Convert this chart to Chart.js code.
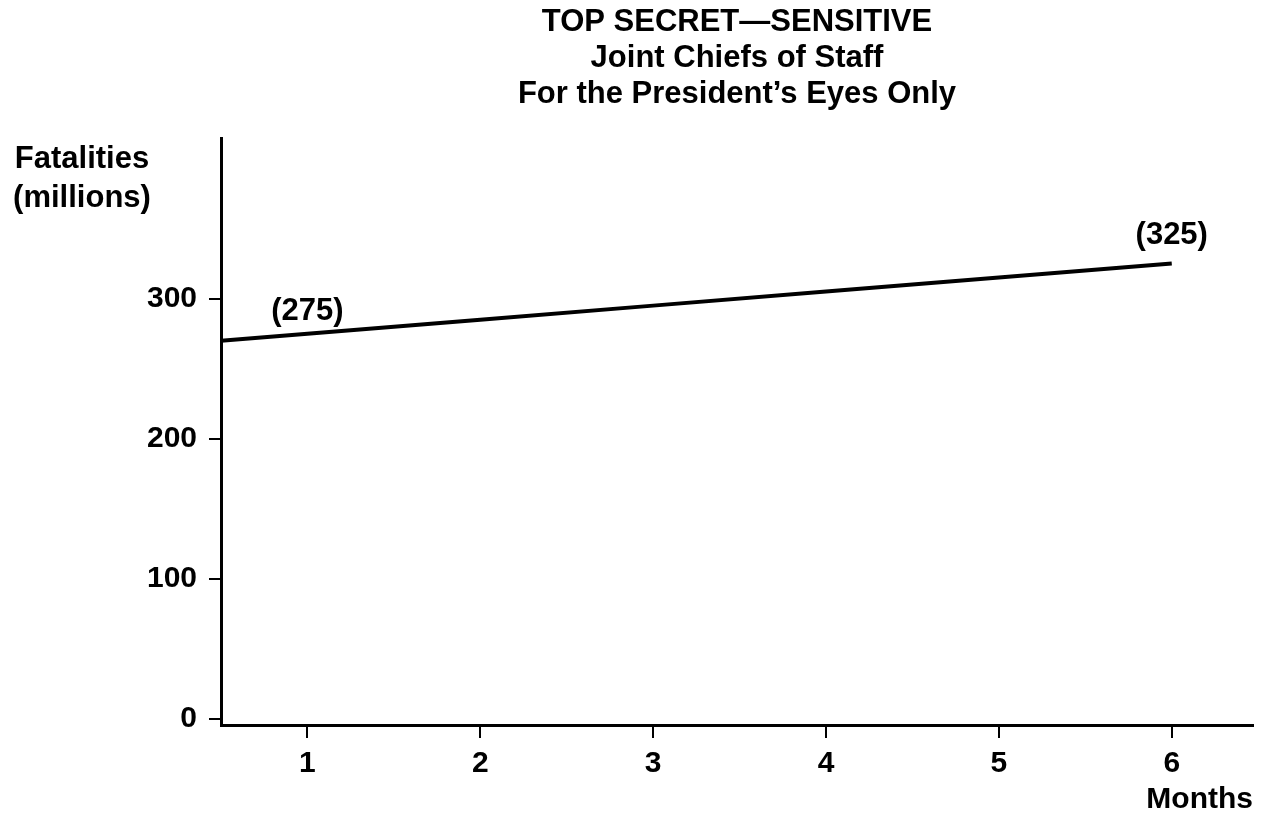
<!DOCTYPE html>
<html><head><meta charset="utf-8">
<script src="https://cdn.jsdelivr.net/npm/chart.js@4.4.1/dist/chart.umd.min.js"></script>
<style>html,body{margin:0;padding:0;background:#fff}#wrap{width:1269px;height:814px;position:relative}</style>
</head><body><div id="wrap"><canvas id="c"></canvas></div>
<script>
const titleLines = ['TOP SECRET\u2014SENSITIVE', 'Joint Chiefs of Staff', 'For the President\u2019s Eyes Only'];
const yHeading = ['Fatalities', '(millions)'];
const xTitle = 'Months';
const months = [0.5, 1, 2, 3, 4, 5, 6];
const fatalities = [270, 275, 285, 295, 305, 315, 325];
const xTicks = [1, 2, 3, 4, 5, 6];
const yTicks = [0, 100, 200, 300];
const labelledIndex = [1, 6];

const FAMILY = '"Liberation Sans", Arial, Helvetica, sans-serif';
const BIG = {family: FAMILY, size: 30, weight: 'bold', lineHeight: 1.2};

const annotate = {
  id: 'annotate',
  afterDraw(chart, args, opts) {
    const ctx = chart.ctx;
    const meta = chart.getDatasetMeta(0);
    ctx.save();
    ctx.fillStyle = '#000';
    ctx.font = 'bold 31px ' + FAMILY;
    ctx.textAlign = 'center';
    ctx.textBaseline = 'alphabetic';
    labelledIndex.forEach((idx, k) => {
      const p = meta.data[idx];
      ctx.fillText('(' + fatalities[idx] + ')', p.x, p.y - opts.lift[k]);
    });
    yHeading.forEach((t, i) => ctx.fillText(t, opts.headX, opts.headY + i * opts.headGap));
    ctx.restore();
  }
};

new Chart(document.getElementById('c'), {
  type: 'line',
  data: {
    datasets: [{
      data: months.map((m, i) => ({x: m, y: fatalities[i]})),
      borderColor: '#000',
      borderWidth: 4,
      pointRadius: 0,
      tension: 0,
      fill: false
    }]
  },
  options: {
    responsive: true,
    maintainAspectRatio: false,
    animation: false,
    devicePixelRatio: 1,
    layout: {padding: {top: 0, left: 0, right: 16, bottom: 0}},
    plugins: {
      legend: {display: false},
      tooltip: {enabled: false},
      title: {
        display: true,
        fullSize: false,
        text: titleLines,
        color: '#000',
        font: {family: FAMILY, size: 31, weight: 'bold', lineHeight: 1.16},
        padding: {top: 4.5, bottom: 26.5}
      },
      annotate: {lift: [14, 20], headX: 82, headY: 168, headGap: 39}
    },
    scales: {
      x: {
        type: 'linear',
        min: 0.5,
        max: 6.47,
        afterBuildTicks: s => { s.ticks = xTicks.map(v => ({value: v})); },
        afterFit: s => { s.height = 89; },
        ticks: {color: '#000', font: BIG, padding: 8, maxRotation: 0, autoSkip: false},
        grid: {display: true, drawOnChartArea: false, drawTicks: true, tickLength: 13, color: '#000', lineWidth: 2},
        border: {display: true, color: '#000', width: 3},
        title: {display: true, text: xTitle, align: 'end', color: '#000', font: {family: FAMILY, size: 30, weight: 'bold', lineHeight: 1}, padding: {top: 0, bottom: -1}}
      },
      y: {
        type: 'linear',
        min: -4.3,
        max: 414,
        afterBuildTicks: s => { s.ticks = yTicks.map(v => ({value: v})); },
        afterFit: s => { s.width = 221; },
        ticks: {color: '#000', font: BIG, padding: 12, autoSkip: false},
        grid: {display: true, drawOnChartArea: false, drawTicks: true, tickLength: 12, color: '#000', lineWidth: 2},
        border: {display: true, color: '#000', width: 3}
      }
    }
  },
  plugins: [annotate]
});
</script>
</body></html>
